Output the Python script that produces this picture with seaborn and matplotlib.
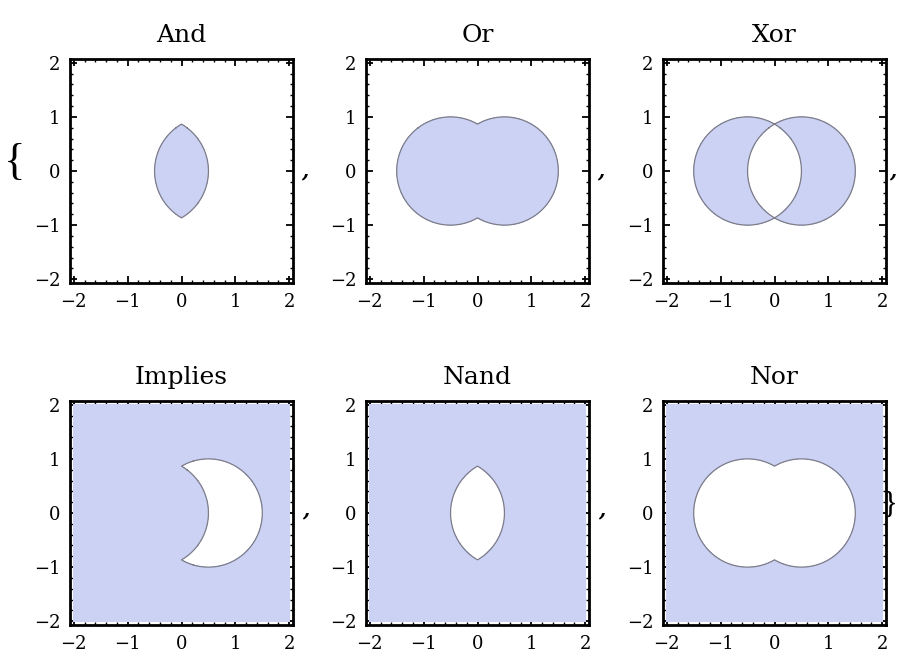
import numpy as np
import matplotlib
matplotlib.use("Agg")
import matplotlib.pyplot as plt
from matplotlib.ticker import AutoMinorLocator
import seaborn as sns

# Two unit disks, A on the right and B on the left
disk_a_center = [0.5, 0.0]
disk_b_center = [-0.5, 0.0]
radius = 1.0

titles = ["And", "Or", "Xor", "Implies", "Nand", "Nor"]
plot_range = [-2, 2]
tick_values = [-2, -1, 0, 1, 2]

fill_color = "#ccd2f4"
edge_color = "#7d7d8a"

sns.set_theme(style="ticks")
plt.rcParams["font.family"] = ["DejaVu Serif", "Liberation Serif"]
plt.rcParams["axes.unicode_minus"] = True

W, H = 898, 659
fig = plt.figure(figsize=(W / 100, H / 100), dpi=100)

# signed "inside" measures, positive inside each disk
xs = np.linspace(plot_range[0], plot_range[1], 801)
X, Y = np.meshgrid(xs, xs)
a = radius - np.hypot(X - disk_a_center[0], Y - disk_a_center[1])
b = radius - np.hypot(X - disk_b_center[0], Y - disk_b_center[1])

regions = {
    "And": np.minimum(a, b),
    "Or": np.maximum(a, b),
    "Xor": np.maximum(np.minimum(a, -b), np.minimum(-a, b)),
    "Implies": np.maximum(-a, b),
    "Nand": -np.minimum(a, b),
    "Nor": -np.maximum(a, b),
}

col_left = [70, 366, 663]
row_top = [59, 401]
ax_w, ax_h = 223, 224
pad = 0.07

for i, name in enumerate(titles):
    r, c = divmod(i, 3)
    left = col_left[c] / W
    bottom = 1 - (row_top[r] + ax_h) / H
    ax = fig.add_axes([left, bottom, ax_w / W, ax_h / H])
    Z = regions[name]
    ax.contourf(X, Y, Z, levels=[0, 100], colors=[fill_color])
    ax.contour(X, Y, Z, levels=[0], colors=[edge_color], linewidths=0.9)
    ax.set_xlim(plot_range[0] - pad, plot_range[1] + pad)
    ax.set_ylim(plot_range[0] - pad, plot_range[1] + pad)
    ax.set_aspect("auto")
    ax.set_xticks(tick_values)
    ax.set_yticks(tick_values)
    ax.xaxis.set_minor_locator(AutoMinorLocator(5))
    ax.yaxis.set_minor_locator(AutoMinorLocator(5))
    ax.tick_params(which="major", direction="in", top=True, right=True,
                   length=5, width=1.3, labelsize=13, pad=7, color="black",
                   labelcolor="black")
    ax.tick_params(which="minor", direction="in", top=True, right=True,
                   length=2.5, width=1.0, color="black")
    for sp in ax.spines.values():
        sp.set_linewidth(2.0)
        sp.set_color("black")
    ax.set_facecolor("white")
    ax.set_title(name, fontsize=18, pad=12, color="black")

# list punctuation from the original notebook output
def ftext(x, y, s, size, ha="center", **kw):
    fig.text(x / W, 1 - y / H, s, fontsize=size, ha=ha, va="center",
             color="black", **kw)

ftext(15, 163, "{", 32, family="Liberation Serif")
ftext(305, 170, ",", 15, style="italic", weight="bold")
ftext(601, 170, ",", 15, style="italic", weight="bold")
ftext(893, 170, ",", 15, style="italic", weight="bold")
ftext(306, 509, ",", 15, style="italic", weight="bold")
ftext(602, 509, ",", 15, style="italic", weight="bold")
ftext(897, 505, "}", 22, ha="right", family="Liberation Serif")

fig.savefig("out.png", dpi=100, facecolor="white")
